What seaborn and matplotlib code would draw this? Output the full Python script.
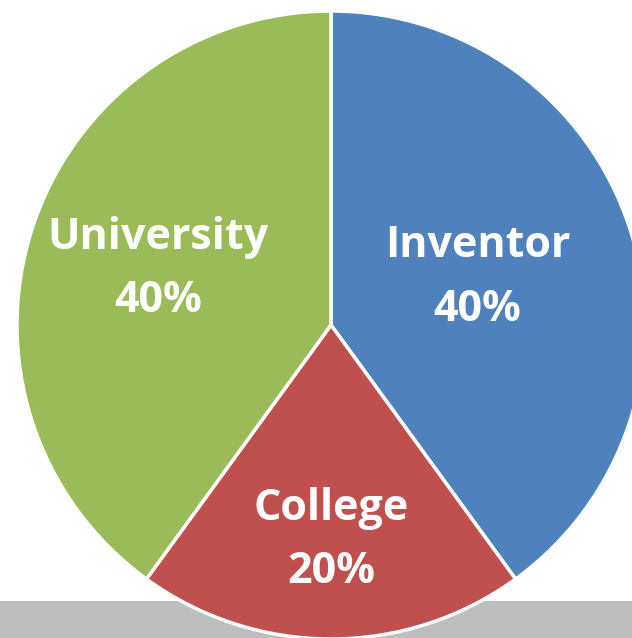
import numpy as np
import matplotlib
matplotlib.use("Agg")
import matplotlib.pyplot as plt
import seaborn as sns

categories = ["Inventor", "College", "University"]
shares = [40, 20, 40]
colors = ["#4F81BD", "#C0504D", "#9BBB59"]
label_r = [0.49, 0.685, 0.578]

sns.set_style("white")
plt.rcParams["font.family"] = ["Open Sans", "DejaVu Sans"]

fig = plt.figure(figsize=(6.32, 6.38), dpi=100)
ax = fig.add_axes([0, 0, 1, 1])
ax.set_axis_off()

cx, cy, R = 331, 325, 314
ax.axhspan(601, 640, color="#BEBEBE", zorder=0, lw=0)

# y axis is inverted, so angle -90 is the top and increasing angle runs clockwise
wedges, _ = ax.pie(shares, colors=colors, startangle=-90, counterclock=True,
                   center=(cx, cy), radius=R, frame=True,
                   wedgeprops=dict(edgecolor="white", linewidth=2.5))
for w in wedges:
    w.set_zorder(2)

for w, cat, s, lr in zip(wedges, categories, shares, label_r):
    th = np.deg2rad((w.theta1 + w.theta2) / 2)
    x = cx + lr * R * np.cos(th)
    y = cy + lr * R * np.sin(th)
    ax.text(x, y, f"{cat}\n{s}%", ha="center", va="center", color="white",
            fontsize=31, fontweight="bold", linespacing=1.62, zorder=3)

ax.set_xlim(0, 632)
ax.set_ylim(638, 0)
ax.set_aspect("equal")
ax.set_axis_off()
fig.savefig("out.png", dpi=100)
